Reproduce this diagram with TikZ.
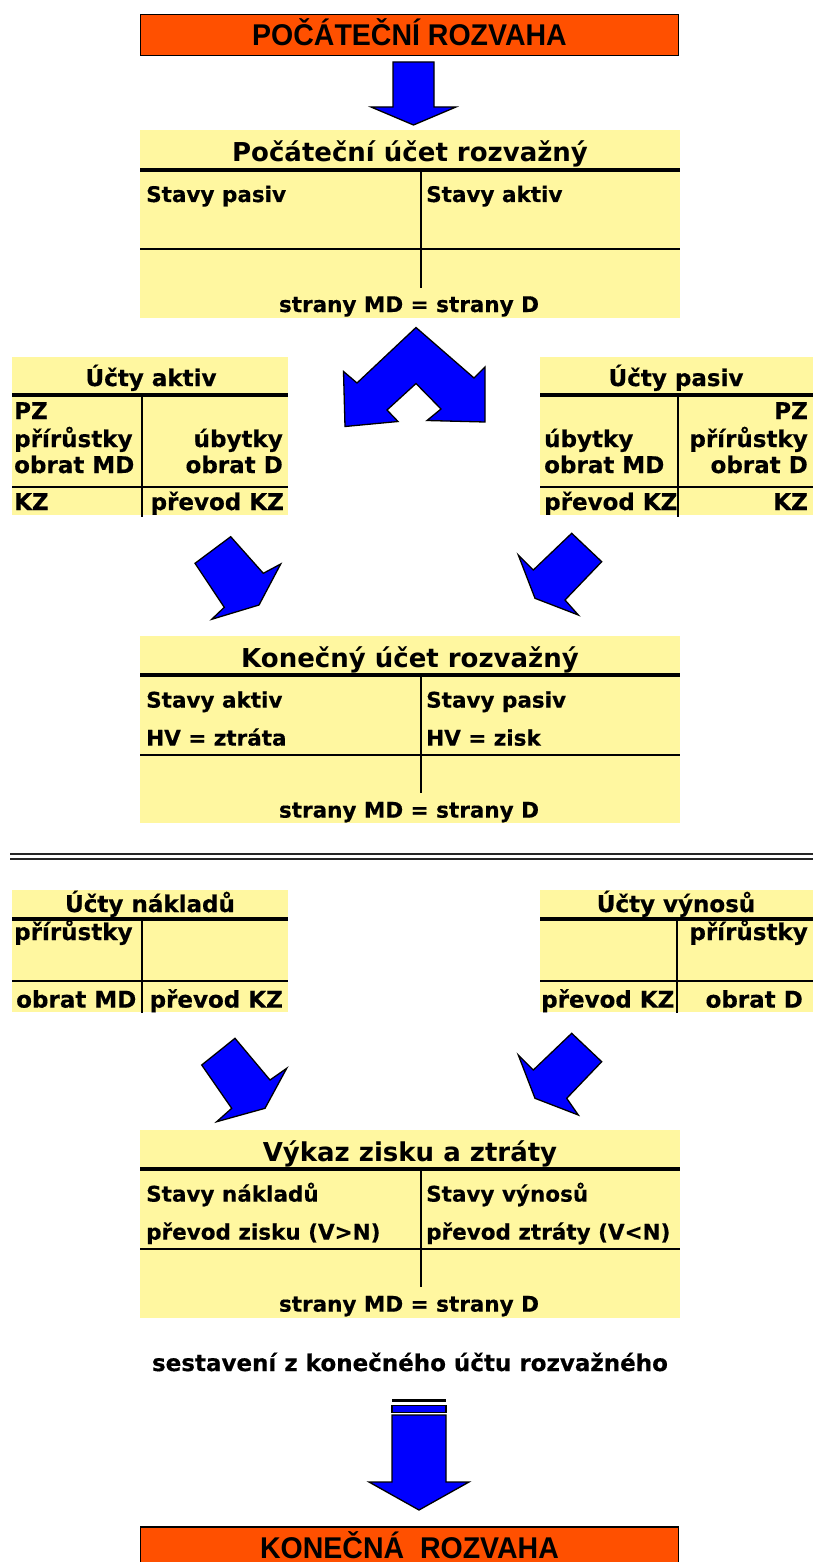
\documentclass[tikz,border=0pt]{standalone}
\usepackage{fontspec}
\setmainfont{DejaVu Sans}
\newfontfamily\headfont[FakeStretch=0.95]{Liberation Sans Bold}
\newfontfamily\bodyfont[FakeBold=0.5]{DejaVu Sans Bold}
\newfontfamily\titlefont{DejaVu Sans Bold}
\definecolor{orangebg}{RGB}{255,80,0}
\definecolor{yellowbg}{RGB}{255,247,160}
\definecolor{arrowblue}{RGB}{0,0,255}
\tikzset{
  acc/.style={fill=yellowbg, draw=none, inner sep=0pt, anchor=north west},
  txt/.style={inner sep=0pt, anchor=base west, font=\bodyfont\fontsize{21.5}{25}\selectfont},
  txtr/.style={txt, anchor=base east},
  txtc/.style={txt, anchor=base},
  stxt/.style={inner sep=0pt, anchor=base west, font=\bodyfont\fontsize{23}{27}\selectfont},
  stxtr/.style={stxt, anchor=base east},
  stxtc/.style={stxt, anchor=base},
  ttl/.style={inner sep=0pt, anchor=base, font=\titlefont\fontsize{26}{30}\selectfont},
  thickrule/.style={line width=4pt},
  thinrule/.style={line width=2pt},
  blockarrow/.style={fill=arrowblue, draw=black, line width=1.3pt, line join=miter},
  orangebox/.style={fill=orangebg, draw=black, line width=1.8pt, inner sep=0pt,
     minimum width=538pt, minimum height=41pt, text height=22pt, text depth=0pt,
     font=\headfont\fontsize{30}{34}\selectfont},
}
\begin{document}
\begin{tikzpicture}[x=1pt,y=-1pt]
\useasboundingbox (0,0) rectangle (813,1562);
\clip (0,0) rectangle (813,1562);

% top orange
\node[orangebox] (pr) at (409.5,35) {POČÁTEČNÍ ROZVAHA};
\draw[blockarrow] (393,62) -- (434,62) -- (434,107) -- (456,107) -- (413.5,125) -- (371,107) -- (393,107) -- cycle;

% Box 1
\node[acc, minimum width=540pt, minimum height=188pt] (pur) at (140,130) {};
\draw[thickrule] (140,170) -- (680,170);
\draw[thinrule] (140,249) -- (680,249);
\draw[thinrule] (421,170) -- (421,288);
\node[ttl] (purT) at (410,162) {Počáteční účet rozvažný};
\node[txt] (purL) at (146,202) {Stavy pasiv};
\node[txt] (purR) at (426,202) {Stavy aktiv};
\node[txtc] (purS) at (409,312) {strany MD = strany D};

% split arrow
\draw[blockarrow] (416,327.5) -- (357,383) -- (343.5,371.5) -- (345,426.5) -- (398,421.5) -- (387,410)
  -- (416,383.5) -- (441,409) -- (427,420.5) -- (485,422) -- (485,367) -- (474,378) -- cycle;

% Ucty aktiv
\node[acc, minimum width=276pt, minimum height=158pt] (ua) at (12,357) {};
\draw[thickrule] (12,395) -- (288,395);
\draw[thinrule] (12,487) -- (288,487);
\draw[thinrule] (142,395) -- (142,517);
\node[stxtc] (uaT) at (151,386) {Účty aktiv};
\node[stxt] (ua1) at (14,419) {PZ};
\node[stxt] (ua2) at (14,447) {přírůstky};
\node[stxt] (ua3) at (14,473) {obrat MD};
\node[stxtr] (ua4) at (283,447) {úbytky};
\node[stxtr] (ua5) at (283,473) {obrat D};
\node[stxt] (ua6) at (14,510) {KZ};
\node[stxtr] (ua7) at (284,510) {převod KZ};

% Ucty pasiv
\node[acc, minimum width=273pt, minimum height=158pt] (up) at (540,357) {};
\draw[thickrule] (540,395) -- (813,395);
\draw[thinrule] (540,487) -- (813,487);
\draw[thinrule] (678,395) -- (678,517);
\node[stxtc] (upT) at (676,386) {Účty pasiv};
\node[stxtr] (up1) at (808,419) {PZ};
\node[stxtr] (up2) at (808,447) {přírůstky};
\node[stxtr] (up3) at (808,473) {obrat D};
\node[stxt] (up4) at (544,447) {úbytky};
\node[stxt] (up5) at (544,473) {obrat MD};
\node[stxt] (up6) at (544,510) {převod KZ};
\node[stxtr] (up7) at (808,510) {KZ};

% small arrows (upper)
\draw[blockarrow] (195,563.3) -- (230.7,536.7) -- (263.3,573.3) -- (280.7,564) -- (259,605) -- (211.7,619.3) -- (224.3,607.3) -- cycle;
\draw[blockarrow] (571.7,533.3) -- (601.7,561.7) -- (565,600) -- (578.3,615) -- (535,598.3) -- (518.3,555) -- (533.3,570) -- cycle;

% Box 2
\node[acc, minimum width=540pt, minimum height=187pt] (kur) at (140,636) {};
\draw[thickrule] (140,675) -- (680,675);
\draw[thinrule] (140,755) -- (680,755);
\draw[thinrule] (421,675) -- (421,793);
\node[ttl] (kurT) at (410,667.5) {Konečný účet rozvažný};
\node[txt] (kur1) at (146,707.6) {Stavy aktiv};
\node[txt] (kur2) at (426,707.6) {Stavy pasiv};
\node[txt] (kur3) at (146,745.6) {HV = ztráta};
\node[txt] (kur4) at (426,745.6) {HV = zisk};
\node[txtc] (kurS) at (409,817.6) {strany MD = strany D};

% double separator
\draw[line width=2pt, black!85] (10,853.5) -- (813,853.5);
\draw[line width=2pt, black!85] (10,858.5) -- (813,858.5);

% Ucty nakladu
\node[acc, minimum width=276pt, minimum height=122pt] (un) at (12,890) {};
\draw[thickrule] (12,919) -- (288,919);
\draw[thinrule] (12,981) -- (288,981);
\draw[thinrule] (142,919) -- (142,1013);
\node[stxtc] (unT) at (150,912) {Účty nákladů};
\node[stxt] (un1) at (14,940) {přírůstky};
\node[stxt] (un2) at (16,1007.6) {obrat MD};
\node[stxtr] (un3) at (283,1007.6) {převod KZ};

% Ucty vynosu
\node[acc, minimum width=273pt, minimum height=122pt] (uv) at (540,890) {};
\draw[thickrule] (540,919) -- (813,919);
\draw[thinrule] (540,981) -- (813,981);
\draw[thinrule] (677,919) -- (677,1013);
\node[stxtc] (uvT) at (676,912) {Účty výnosů};
\node[stxtr] (uv1) at (808,940) {přírůstky};
\node[stxt] (uv2) at (541,1007.6) {převod KZ};
\node[stxtr] (uv3) at (803,1007.6) {obrat D};

% small arrows (lower)
\draw[blockarrow] (201.7,1065) -- (235,1038.3) -- (270,1080) -- (286.7,1068.3) -- (265,1108.3) -- (216.7,1121.7) -- (231.7,1108.3) -- cycle;
\draw[blockarrow] (571.7,1033.3) -- (601.7,1061.7) -- (566.7,1098.3) -- (578.3,1115) -- (535,1098.3) -- (518.3,1055) -- (533.3,1070) -- cycle;

% Box 3
\node[acc, minimum width=540pt, minimum height=188pt] (vzz) at (140,1130) {};
\draw[thickrule] (140,1169) -- (680,1169);
\draw[thinrule] (140,1249) -- (680,1249);
\draw[thinrule] (421,1169) -- (421,1287);
\node[ttl] (vzzT) at (410,1161.5) {Výkaz zisku a ztráty};
\node[txt] (vzz1) at (146,1201.6) {Stavy nákladů};
\node[txt] (vzz2) at (426,1201.6) {Stavy výnosů};
\node[txt] (vzz3) at (146,1239.6) {převod zisku (V>N)};
\node[txt] (vzz4) at (426,1239.6) {převod ztráty (V<N)};
\node[txtc] (vzzS) at (409,1311.6) {strany MD = strany D};

\node[txtc, font=\bodyfont\fontsize{23}{27}\selectfont] (sest) at (410,1371) {sestavení z konečného účtu rozvažného};

% bottom arrow
\fill[black] (392,1398.5) rectangle (446,1401.5);
\draw[fill=arrowblue, draw=black, line width=1.3pt] (392,1405.5) rectangle (446,1412.5);
\draw[blockarrow] (392,1415) -- (446,1415) -- (446,1482) -- (469,1482) -- (419,1510) -- (369,1482) -- (392,1482) -- cycle;

% bottom orange
\node[orangebox] (kr) at (409.5,1547.5) {KONEČNÁ\ \ ROZVAHA};
\end{tikzpicture}
\end{document}
